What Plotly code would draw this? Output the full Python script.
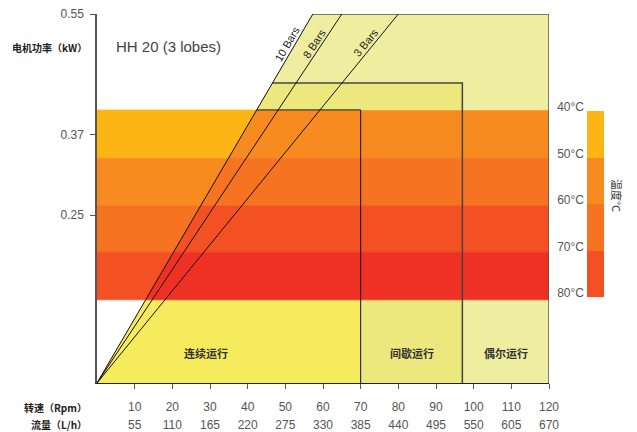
import math
import plotly.graph_objects as go

# the page body has an 8px default margin, so the figure is drawn 8px in
OFF = 8
W, H = 637 - OFF, 432 - OFF


def fx(X):
    return (X - OFF) / W


def fy(Y):
    return 1 - (Y - OFF) / H


# ---------------- data ----------------
rpm_ticks = [10, 20, 30, 40, 50, 60, 70, 80, 90, 100, 110, 120]
flow_ticks = [55, 110, 165, 220, 275, 330, 385, 440, 495, 550, 605, 670]
power_ticks = [0.25, 0.37, 0.55]
power_max = 0.55
rpm_max = 120

pressure_labels = ["10 Bars", "8 Bars", "3 Bars"]
pressure_rpm_at_max = [57.3, 65.0, 80.0]      # rpm where each line reaches 0.55 kW
pressure_label_kw = 0.50

temp_labels = [40, 50, 60, 70, 80]
temp_edges_kw = [0.407, 0.335, 0.264, 0.195, 0.124]   # band edges, top -> bottom

duty_labels = ["连续运行", "间歇运行", "偶尔运行"]
duty_rpm_limit = [70, 97, 120]
duty_kw_top = [0.407, 0.447, 0.55]
duty_label_rpm = [29, 83.5, 108.5]
duty_label_kw = [0.045, 0.045, 0.045]

title_text = "HH 20 (3 lobes)"
y_title = "电机功率（kW）"
x_title_rpm = "转速（Rpm）"
x_title_flow = "流量（L/h）"
temp_title = "温度°C"

# ---------------- styles ----------------
band_left = ["#FDB515", "#F78B1F", "#F57321", "#F35024"]
band_right = ["#F78B1F", "#F57321", "#F35024", "#EE3124"]
duty_fill = ["#F5EB5C", "#EDE87D", "#EFEEA0"]
LATIN = "Liberation Sans"
CJK = "Noto Sans CJK SC"

x_dom = [fx(97), fx(549)]
y_dom = [fy(383), fy(14)]
px_per_rpm = (549 - 97) / rpm_max
px_per_kw = (383 - 14) / power_max

k10 = power_max / pressure_rpm_at_max[0]


def x10(y):
    return y / k10


fig = go.Figure()


def poly(pts, color):
    xs = [p[0] for p in pts] + [pts[0][0]]
    ys = [p[1] for p in pts] + [pts[0][1]]
    fig.add_trace(go.Scatter(x=xs, y=ys, mode="lines", fill="toself",
                             fillcolor=color, line=dict(color=color, width=0.6),
                             hoverinfo="skip", showlegend=False))


def outline(pts, color, width):
    fig.add_trace(go.Scatter(x=[p[0] for p in pts], y=[p[1] for p in pts],
                             mode="lines", line=dict(color=color, width=width),
                             hoverinfo="skip", showlegend=False))


c_lim, i_lim, o_lim = duty_rpm_limit
c_top, i_top, o_top = duty_kw_top
bb = temp_edges_kw[-1]
bt = temp_edges_kw[0]

# below the temperature bands
poly([(0, 0), (x10(bb), bb), (c_lim, bb), (c_lim, 0)], duty_fill[0])
poly([(c_lim, 0), (c_lim, bb), (i_lim, bb), (i_lim, 0)], duty_fill[1])
poly([(i_lim, 0), (i_lim, bb), (o_lim, bb), (o_lim, 0)], duty_fill[2])

# temperature bands
for i in range(4):
    hi, lo = temp_edges_kw[i], temp_edges_kw[i + 1]
    poly([(0, lo), (x10(lo), lo), (x10(hi), hi), (0, hi)], band_left[i])
    poly([(x10(lo), lo), (rpm_max, lo), (rpm_max, hi), (x10(hi), hi)], band_right[i])

# above the bands
poly([(x10(bt), bt), (i_lim, bt), (i_lim, i_top), (x10(i_top), i_top)], duty_fill[1])
poly([(x10(i_top), i_top), (i_lim, i_top), (i_lim, bt), (o_lim, bt), (o_lim, o_top),
      (x10(o_top), o_top)], duty_fill[2])

# duty region outlines
outline([(x10(c_top), c_top), (c_lim, c_top), (c_lim, 0)], "#111", 1)
outline([(x10(i_top), i_top), (i_lim, i_top), (i_lim, 0)], "#444", 1.5)
outline([(x10(o_top), o_top), (o_lim, o_top), (o_lim, 0)], "#555", 1.5)

# pressure lines
for r in pressure_rpm_at_max:
    outline([(0, 0), (r, power_max)], "#111", 1)

# dummy trace for the flow axis
fig.add_trace(go.Scatter(x=rpm_ticks, y=[None] * len(rpm_ticks), xaxis="x2", yaxis="y",
                         mode="markers", hoverinfo="skip", showlegend=False))

# temperature legend bar
fig.add_trace(go.Bar(x=[0] * 4, y=[temp_labels[i + 1] - temp_labels[i] for i in range(4)],
                     base=temp_labels[:4], marker=dict(color=band_left, line=dict(width=0)),
                     width=1, xaxis="x3", yaxis="y3", hoverinfo="skip", showlegend=False))

annotations = []
for lab, r in zip(pressure_labels, pressure_rpm_at_max):
    theta = math.atan2(power_max * px_per_kw, r * px_per_rpm)
    d = 7
    annotations.append(dict(
        x=pressure_label_kw * r / power_max, y=pressure_label_kw, xref="x", yref="y",
        text=lab, showarrow=False, textangle=-math.degrees(theta),
        xshift=-d * math.sin(theta), yshift=d * math.cos(theta),
        font=dict(family=LATIN, size=11, color="#222")))

for lab, xr, yk in zip(duty_labels, duty_label_rpm, duty_label_kw):
    annotations.append(dict(x=xr, y=yk, xref="x", yref="y", text=lab, showarrow=False,
                            font=dict(family=CJK, size=11, color="#333", weight="bold")))

annotations += [
    dict(x=fx(114), y=fy(46), xref="paper", yref="paper", text=title_text,
         showarrow=False, xanchor="left", yanchor="middle",
         font=dict(family=LATIN, size=15, color="#444")),
    dict(x=fx(89), y=fy(48), xref="paper", yref="paper", text=y_title,
         showarrow=False, xanchor="right", yanchor="middle",
         font=dict(family=CJK, size=10, color="#222", weight="bold")),
    dict(x=fx(89), y=fy(407), xref="paper", yref="paper", text=x_title_rpm,
         showarrow=False, xanchor="right", yanchor="middle",
         font=dict(family=CJK, size=10, color="#222", weight="bold")),
    dict(x=fx(89), y=fy(424), xref="paper", yref="paper", text=x_title_flow,
         showarrow=False, xanchor="right", yanchor="middle",
         font=dict(family=CJK, size=10, color="#222", weight="bold")),
    dict(x=fx(617), y=fy(195), xref="paper", yref="paper", text=temp_title,
         showarrow=False, textangle=90, xanchor="center", yanchor="middle",
         font=dict(family=CJK, size=11, color="#333")),
]

tickfont = dict(family=LATIN, size=12, color="#555")

fig.update_layout(
    width=W, height=H, autosize=False,
    margin=dict(l=0, r=0, t=0, b=0, pad=0, autoexpand=False),
    paper_bgcolor="white", plot_bgcolor="white",
    showlegend=False, bargap=0,
    xaxis=dict(domain=x_dom, range=[0, rpm_max], anchor="y", automargin=False,
               tickvals=rpm_ticks, ticktext=[str(v) for v in rpm_ticks],
               ticks="outside", ticklen=5, tickcolor="#555", tickwidth=1,
               showline=True, linecolor="#222", linewidth=1,
               showgrid=False, zeroline=False, tickfont=tickfont,
               ticklabelstandoff=8, ticklabeloverflow="allow"),
    xaxis2=dict(domain=x_dom, range=[0, rpm_max], overlaying="x", anchor="free",
                position=fy(416), side="bottom", automargin=False,
                tickvals=rpm_ticks, ticktext=[str(v) for v in flow_ticks],
                ticks="", showline=False, showgrid=False, zeroline=False,
                tickfont=tickfont, ticklabeloverflow="allow"),
    yaxis=dict(domain=y_dom, range=[0, power_max], anchor="x", automargin=False,
               tickvals=power_ticks, ticktext=[f"{v:.2f}" for v in power_ticks],
               ticks="outside", ticklen=5, tickcolor="#555", tickwidth=1,
               showline=True, linecolor="#555", linewidth=1.5,
               showgrid=False, zeroline=False, tickfont=tickfont,
               ticklabelstandoff=4, ticklabeloverflow="allow"),
    xaxis3=dict(domain=[fx(587), fx(604)], range=[-0.5, 0.5], anchor="y3",
                visible=False, automargin=False),
    yaxis3=dict(domain=[fy(297), fy(111)], range=[80, 40], anchor="x3",
                automargin=False,
                tickvals=temp_labels, ticktext=[f"{t}°C" for t in temp_labels],
                ticks="", showline=False, showgrid=False, zeroline=False,
                tickfont=tickfont, side="left", ticklabelstandoff=2,
                ticklabelshift=4, ticklabeloverflow="allow"),
    annotations=annotations,
)

fig.write_html("out.html")
